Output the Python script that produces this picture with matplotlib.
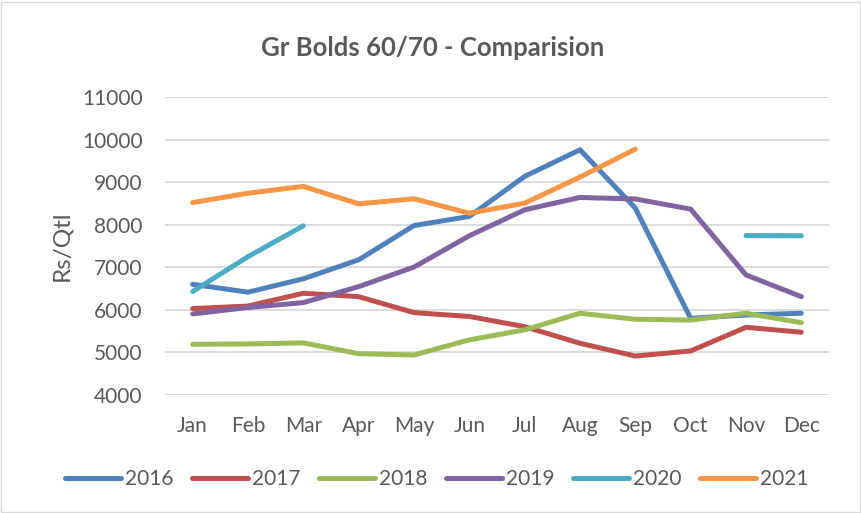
import matplotlib
matplotlib.use("Agg")
import matplotlib.pyplot as plt
import numpy as np

months = ["Jan", "Feb", "Mar", "Apr", "May", "Jun", "Jul", "Aug", "Sep", "Oct", "Nov", "Dec"]
nan = np.nan
y2016 = [6600, 6415, 6730, 7175, 7980, 8195, 9135, 9760, 8390, 5800, 5880, 5920]
y2017 = [6030, 6090, 6390, 6310, 5935, 5845, 5605, 5215, 4915, 5035, 5590, 5475]
y2018 = [5190, 5200, 5225, 4970, 4940, 5295, 5530, 5920, 5780, 5760, 5920, 5700]
y2019 = [5905, 6055, 6170, 6545, 7005, 7740, 8350, 8640, 8605, 8365, 6820, 6310]
y2020 = [6430, 7250, 7975, nan, nan, nan, nan, nan, nan, nan, 7745, 7740]
y2021 = [8520, 8740, 8900, 8490, 8610, 8270, 8505, 9120, 9775, nan, nan, nan]
series = ["2016", "2017", "2018", "2019", "2020", "2021"]
values = [y2016, y2017, y2018, y2019, y2020, y2021]
colors = ["#4F81BD", "#C0504D", "#9BBB59", "#8064A2", "#4BACC6", "#F79646"]
yticks = [4000, 5000, 6000, 7000, 8000, 9000, 10000, 11000]

plt.rcParams['font.family'] = ['Lato', 'DejaVu Sans']
txt = "#595959"

fig = plt.figure(figsize=(8.62, 5.13), dpi=100)
ax = fig.add_axes([165/862, 1-395/513, (829-165)/862, (395-97)/513])

x = np.arange(len(months))
for name, v, c in zip(series, values, colors):
    ax.plot(x, v, color=c, lw=3.6, solid_capstyle='round', solid_joinstyle='round', label=name)

ax.set_xlim(-0.5, 11.5)
ax.set_ylim(4000, 11000)
ax.set_yticks(yticks)
ax.set_yticklabels([str(t) for t in yticks])
ax.set_xticks(x)
ax.set_xticklabels(months)
ax.grid(axis='y', color='#D9D9D9', lw=1.3)
ax.set_axisbelow(True)
for s in ax.spines.values():
    s.set_visible(False)
ax.tick_params(length=0, labelsize=15, colors=txt)
ax.tick_params(axis='x', pad=15)
ax.tick_params(axis='y', pad=16)

fig.text(62/862, 1-246/513, "Rs/Qtl", rotation=90, ha='center', va='center',
         fontsize=17.5, color=txt)

fig.text(433/862, 1-48/513, "Gr Bolds 60/70 - Comparision", ha='center', va='center',
         fontsize=18.5, fontweight='bold', color=txt)

leg = fig.legend(loc='center', bbox_to_anchor=(437/862, 1-479/513), ncol=6, frameon=False,
                 fontsize=15, handlelength=2.7, handletextpad=0.2, columnspacing=0.87)
for t in leg.get_texts():
    t.set_color(txt)

fig.patches.append(plt.Rectangle((1/862, 1/513), 859/862, 510/513, transform=fig.transFigure,
                                 fill=False, edgecolor='#D9D9D9', lw=1))

fig.savefig("out.png", dpi=100)
